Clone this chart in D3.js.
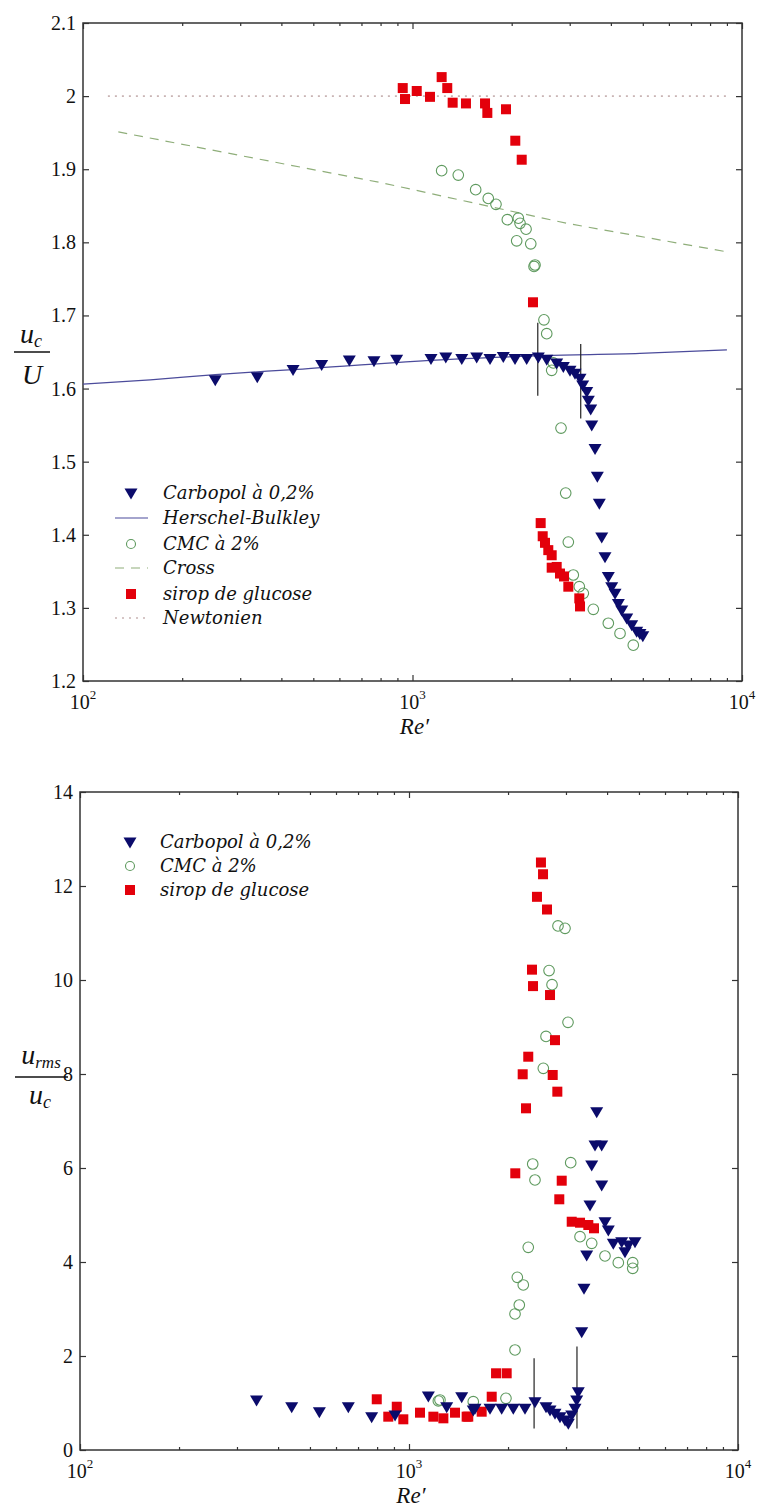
<!DOCTYPE html>
<html><head><meta charset="utf-8">
<script src="https://cdn.jsdelivr.net/npm/d3@7"></script>
<style>body{margin:0;background:#fff}</style>
</head><body>
<svg id="c" width="761" height="1508"></svg>
<script>
// ---------- DATA (top panel : u_c / U) ----------
const carbTopRe = [252,338,434,530,643,764,895,1138,1262,1411,1566,1719,1886,2047,2221,2409,2555,2739,2869,3006,3113,3224,3285,3379,3417,3474,3499,3581,3639,3690,3752,3839,3929,4023,4118,4214,4315,4468,4627,4790,4900,5000];
const carbTopU  = [1.612,1.616,1.626,1.633,1.639,1.638,1.640,1.641,1.643,1.641,1.643,1.641,1.644,1.641,1.641,1.643,1.640,1.635,1.630,1.625,1.621,1.614,1.605,1.596,1.584,1.572,1.550,1.518,1.480,1.443,1.397,1.370,1.343,1.329,1.320,1.306,1.297,1.286,1.277,1.268,1.265,1.262];
const cmcTopRe = [1226,1377,1555,1698,1792,1940,2071,2095,2120,2211,2285,2338,2354,2506,2555,2645,2675,2823,2917,2971,3076,3208,3299,3538,3929,4264,4678];
const cmcTopU  = [1.898,1.892,1.872,1.860,1.852,1.831,1.802,1.833,1.826,1.818,1.798,1.767,1.769,1.694,1.675,1.625,1.635,1.546,1.457,1.390,1.345,1.329,1.320,1.298,1.279,1.265,1.249];
const sirTopRe = [934,949,1030,1130,1226,1275,1324,1453,1660,1687,1922,2051,2145,2321,2449,2484,2524,2583,2645,2645,2739,2803,2883,2971,3208,3224];
const sirTopU  = [2.011,1.996,2.007,1.999,2.026,2.011,1.991,1.990,1.990,1.977,1.982,1.939,1.913,1.718,1.416,1.398,1.389,1.379,1.372,1.355,1.356,1.347,1.343,1.329,1.313,1.302];
const hbRe = [100,160,252,434,1300,2500,4900,9000];
const hbU  = [1.606,1.612,1.619,1.626,1.640,1.645,1.648,1.653];
const crossRe = [128,815,2936,9000];
const crossU  = [1.951,1.881,1.826,1.787];
const newtRe = [119,9000];
const newtU  = [2.0,2.0];
const transRe = [2400,3240];
const transTopLo = [1.590,1.559];
const transTopHi = [1.690,1.661];

// ---------- DATA (bottom panel : u_rms / u_c) ----------
const carbBotRe = [344,440,534,654,770,907,1145,1302,1446,1568,1587,1763,1913,2075,2252,2415,2609,2683,2778,2877,2980,3050,3123,3196,3234,3270,3349,3403,3468,3549,3592,3676,3720,3852,3852,3942,4035,4178,4431,4534,4641,4863];
const carbBotV  = [1.064,0.921,0.815,0.921,0.709,0.745,1.149,0.921,1.134,0.851,0.887,0.887,0.887,0.887,0.887,1.028,0.921,0.851,0.780,0.709,0.638,0.567,0.745,0.887,1.064,1.241,2.517,3.440,4.149,5.213,6.064,6.489,7.198,6.489,5.638,4.857,4.681,4.398,4.432,4.219,4.362,4.432];
const cmcBotRe = [1228,1242,1568,1971,2100,2100,2134,2164,2225,2304,2377,2415,2560,2609,2665,2721,2837,2980,3043,3101,3310,3592,3942,4327,4786,4786];
const cmcBotV  = [1.043,1.064,1.028,1.100,2.128,2.894,3.674,3.085,3.511,4.313,6.085,5.745,8.121,8.80,10.20,9.90,11.15,11.10,9.10,6.113,4.538,4.398,4.128,3.986,3.986,3.866];
const sirBotRe = [798,865,918,961,1080,1186,1272,1380,1497,1514,1663,1784,1839,1981,2104,2216,2268,2304,2365,2382,2449,2518,2555,2627,2683,2734,2778,2824,2863,2912,3123,3310,3508,3650];
const sirBotV  = [1.079,0.709,0.921,0.653,0.794,0.709,0.674,0.794,0.709,0.709,0.815,1.134,1.632,1.632,5.887,7.994,7.270,8.368,10.22,9.87,11.77,12.50,12.25,11.50,9.68,7.979,8.72,7.624,5.334,5.730,4.857,4.836,4.787,4.717];
const transBotLo = [0.46,0.46];
const transBotHi = [1.95,2.20];

// ---------- TICKS / LABELS ----------
const topYTicks = [1.2,1.3,1.4,1.5,1.6,1.7,1.8,1.9,2.0,2.1];
const botYTicks = [0,2,4,6,8,10,12,14];
const xMajor = [100,1000,10000];
const xMajorExp = ["2","3","4"];
const xMinor = [200,300,400,500,600,700,800,900,2000,3000,4000,5000,6000,7000,8000,9000];
const legendTop = ["Carbopol à 0,2%","Herschel-Bulkley","CMC à 2%","Cross","sirop de glucose","Newtonien"];
const legendBot = ["Carbopol à 0,2%","CMC à 2%","sirop de glucose"];

// ---------- STYLE ----------
const C_TRI = "#0b0b6b", C_CIRC = "#5f9a5f", C_SQ = "#e3000b", C_HB = "#4b4b9b", C_CROSS = "#8fae7a", C_NEWT = "#c9b4b4", C_AX = "#333";
const tickFont = "Liberation Serif, Times New Roman, serif";
const mathFont = "Liberation Serif, Times New Roman, serif";
const legFont = "DejaVu Serif, serif";

const svg = d3.select("#c");
const triPath = "M-6.5,-4.5L6.5,-4.5L0,6.5Z";

function drawPanel(box, yDomain, yTicks){
  const x = d3.scaleLog().domain([100,10000]).range([box.l, box.r]);
  const y = d3.scaleLinear().domain(yDomain).range([box.b, box.t]);
  const g = svg.append("g");
  g.append("g").attr("transform",`translate(0,${box.b})`)
    .call(d3.axisBottom(x).tickValues(xMinor).tickSize(-3).tickFormat(""));
  g.append("g").attr("transform",`translate(0,${box.b})`)
    .call(d3.axisBottom(x).tickValues(xMajor).tickSize(-6).tickFormat(""));
  g.append("g").attr("transform",`translate(0,${box.t})`)
    .call(d3.axisTop(x).tickValues(xMinor).tickSize(-3).tickFormat(""));
  g.append("g").attr("transform",`translate(0,${box.t})`)
    .call(d3.axisTop(x).tickValues(xMajor).tickSize(-6).tickFormat(""));
  g.append("g").attr("transform",`translate(${box.l},0)`)
    .call(d3.axisLeft(y).tickValues(yTicks).tickSize(-6).tickFormat(""));
  g.append("g").attr("transform",`translate(${box.r},0)`)
    .call(d3.axisRight(y).tickValues(yTicks).tickSize(-6).tickFormat(""));
  g.selectAll(".domain").remove();
  g.selectAll(".tick line").attr("stroke",C_AX).attr("stroke-width",1.2);
  g.append("rect").attr("x",box.l).attr("y",box.t).attr("width",box.r-box.l).attr("height",box.b-box.t)
    .attr("fill","none").attr("stroke",C_AX).attr("stroke-width",1.5);
  g.selectAll(".yl").data(yTicks).join("text")
    .attr("x",box.l-7).attr("y",d=>y(d)).attr("dy","0.35em")
    .attr("text-anchor","end").attr("font-family",tickFont).attr("font-size",20).attr("fill","#111")
    .text(d=>String(+d.toFixed(1)));
  xMajor.forEach((v,i)=>{
    const t = g.append("text").attr("x",x(v)).attr("y",box.b+28)
      .attr("text-anchor","middle").attr("font-family",tickFont).attr("font-size",20).attr("fill","#111");
    t.append("tspan").text("10");
    t.append("tspan").attr("dy",-10).attr("font-size",13).text(xMajorExp[i]);
  });
  g.append("text").attr("x",(box.l+box.r)/2+2).attr("y",box.b+53)
    .attr("text-anchor","middle").attr("font-family",mathFont).attr("font-style","italic")
    .attr("font-size",23).attr("fill","#111").text("Re\u2032");
  return {x,y,g};
}

function tri(g,pts,x,y){
  g.selectAll(null).data(pts).join("path").attr("d",triPath)
    .attr("transform",d=>`translate(${x(d[0])},${y(d[1])})`).attr("fill",C_TRI);
}
function circ(g,pts,x,y){
  g.selectAll(null).data(pts).join("circle").attr("cx",d=>x(d[0])).attr("cy",d=>y(d[1])).attr("r",5.3)
    .attr("fill","none").attr("stroke",C_CIRC).attr("stroke-width",1.1);
}
function sq(g,pts,x,y){
  g.selectAll(null).data(pts).join("rect").attr("x",d=>x(d[0])-5).attr("y",d=>y(d[1])-5)
    .attr("width",10).attr("height",10).attr("fill",C_SQ);
}
const zip=(a,b)=>a.map((v,i)=>[v,b[i]]);

// ---------- TOP PANEL ----------
const P1 = drawPanel({l:83,r:742,t:23,b:681},[1.2,2.1],topYTicks);
{
  const {x,y,g}=P1;
  const line=d3.line().x(d=>x(d[0])).y(d=>y(d[1]));
  g.append("path").attr("d",line(zip(newtRe,newtU))).attr("fill","none").attr("stroke",C_NEWT).attr("stroke-width",1.6).attr("stroke-dasharray","2,5");
  g.append("path").attr("d",line(zip(crossRe,crossU))).attr("fill","none").attr("stroke",C_CROSS).attr("stroke-width",1.2).attr("stroke-dasharray","9,7");
  g.append("path").attr("d",d3.line().curve(d3.curveMonotoneX).x(d=>x(d[0])).y(d=>y(d[1]))(zip(hbRe,hbU))).attr("fill","none").attr("stroke",C_HB).attr("stroke-width",1.2);
  transRe.forEach((r,i)=>g.append("line").attr("x1",x(r)).attr("x2",x(r)).attr("y1",y(transTopLo[i])).attr("y2",y(transTopHi[i])).attr("stroke","#222").attr("stroke-width",1.2));
  circ(g,zip(cmcTopRe,cmcTopU),x,y);
  sq(g,zip(sirTopRe,sirTopU),x,y);
  tri(g,zip(carbTopRe,carbTopU),x,y);
  const yl=g.append("g").attr("font-family",mathFont).attr("font-style","italic").attr("fill","#111");
  const n=yl.append("text").attr("x",31).attr("y",343).attr("text-anchor","middle").attr("font-size",28);
  n.append("tspan").text("u"); n.append("tspan").attr("font-size",18).attr("dy",4).text("c");
  yl.append("line").attr("x1",14).attr("x2",50).attr("y1",352).attr("y2",352).attr("stroke","#111").attr("stroke-width",1.3);
  yl.append("text").attr("x",32).attr("y",384).attr("text-anchor","middle").attr("font-size",28).text("U");
  const lg=g.append("g");
  const ly=[493,518,544,568,594,618];
  legendTop.forEach((t,i)=>{
    lg.append("text").attr("x",163).attr("y",ly[i]).attr("dy","0.35em").attr("font-family",legFont)
      .attr("font-style","italic").attr("font-size",18).attr("fill","#111").text(t);
  });
  lg.append("path").attr("d",triPath).attr("transform",`translate(131,${ly[0]})`).attr("fill",C_TRI);
  lg.append("line").attr("x1",115).attr("x2",148).attr("y1",ly[1]).attr("y2",ly[1]).attr("stroke",C_HB).attr("stroke-width",1.2);
  lg.append("circle").attr("cx",131).attr("cy",ly[2]).attr("r",4.5).attr("fill","none").attr("stroke",C_CIRC).attr("stroke-width",1.1);
  lg.append("line").attr("x1",115).attr("x2",148).attr("y1",ly[3]).attr("y2",ly[3]).attr("stroke",C_CROSS).attr("stroke-width",1.2).attr("stroke-dasharray","9,7");
  lg.append("rect").attr("x",126).attr("y",ly[4]-5).attr("width",10).attr("height",10).attr("fill",C_SQ);
  lg.append("line").attr("x1",115).attr("x2",148).attr("y1",ly[5]).attr("y2",ly[5]).attr("stroke",C_NEWT).attr("stroke-width",1.6).attr("stroke-dasharray","2,5");
}

// ---------- BOTTOM PANEL ----------
const P2 = drawPanel({l:80,r:738,t:792,b:1450},[0,14],botYTicks);
{
  const {x,y,g}=P2;
  transRe.forEach((r,i)=>g.append("line").attr("x1",x(r)).attr("x2",x(r)).attr("y1",y(transBotLo[i])).attr("y2",y(transBotHi[i])).attr("stroke","#222").attr("stroke-width",1.2));
  circ(g,zip(cmcBotRe,cmcBotV),x,y);
  sq(g,zip(sirBotRe,sirBotV),x,y);
  tri(g,zip(carbBotRe,carbBotV),x,y);
  const yl=g.append("g").attr("font-family",mathFont).attr("font-style","italic").attr("fill","#111");
  const n=yl.append("text").attr("x",41).attr("y",1064).attr("text-anchor","middle").attr("font-size",28);
  n.append("tspan").text("u"); n.append("tspan").attr("font-size",17).attr("dy",4).text("rms");
  yl.append("line").attr("x1",15).attr("x2",68).attr("y1",1077).attr("y2",1077).attr("stroke","#111").attr("stroke-width",1.3);
  const d=yl.append("text").attr("x",40).attr("y",1104).attr("text-anchor","middle").attr("font-size",28);
  d.append("tspan").text("u"); d.append("tspan").attr("font-size",18).attr("dy",4).text("c");
  const lg=g.append("g");
  const ly=[842,866,890];
  legendBot.forEach((t,i)=>{
    lg.append("text").attr("x",160).attr("y",ly[i]).attr("dy","0.35em").attr("font-family",legFont)
      .attr("font-style","italic").attr("font-size",18).attr("fill","#111").text(t);
  });
  lg.append("path").attr("d",triPath).attr("transform",`translate(130,${ly[0]})`).attr("fill",C_TRI);
  lg.append("circle").attr("cx",130).attr("cy",ly[1]).attr("r",4.5).attr("fill","none").attr("stroke",C_CIRC).attr("stroke-width",1.1);
  lg.append("rect").attr("x",125).attr("y",ly[2]-5).attr("width",10).attr("height",10).attr("fill",C_SQ);
}
</script>
</body></html>
